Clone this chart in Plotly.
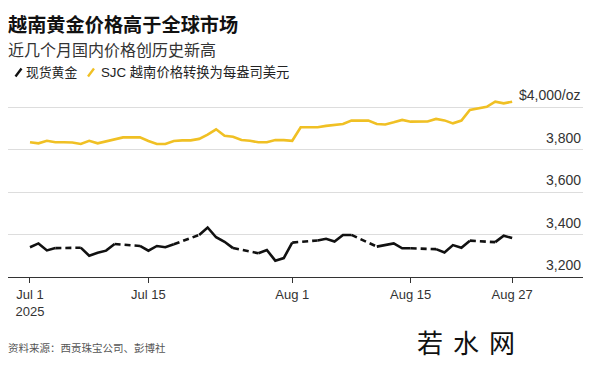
import pandas as pd
import plotly.graph_objects as go

# ---------------- data ----------------
spot_dates = [
    "2025-07-01", "2025-07-02", "2025-07-03", "2025-07-04",
    "2025-07-07", "2025-07-08", "2025-07-09", "2025-07-10", "2025-07-11",
    "2025-07-14", "2025-07-15", "2025-07-16", "2025-07-17", "2025-07-18",
    "2025-07-21", "2025-07-22", "2025-07-23", "2025-07-24", "2025-07-25",
    "2025-07-28", "2025-07-29", "2025-07-30", "2025-07-31", "2025-08-01",
    "2025-08-04", "2025-08-05", "2025-08-06", "2025-08-07", "2025-08-08",
    "2025-08-11", "2025-08-12", "2025-08-13", "2025-08-14", "2025-08-15",
    "2025-08-18", "2025-08-19", "2025-08-20", "2025-08-21", "2025-08-22",
    "2025-08-25", "2025-08-26", "2025-08-27",
]
spot_values = [
    3340, 3358, 3325, 3336,
    3338, 3300, 3314, 3324, 3355,
    3346, 3324, 3346, 3340, 3354,
    3398, 3433, 3387, 3366, 3336,
    3312, 3327, 3277, 3289, 3362,
    3372, 3380, 3367, 3398, 3398,
    3343, 3352, 3358, 3335, 3335,
    3331, 3315, 3350, 3338, 3371,
    3364, 3394, 3383,
]

sjc_start, sjc_end = "2025-07-01", "2025-08-27"
sjc_values = [
    3834, 3829, 3841, 3834, 3834, 3833, 3826, 3841, 3829, 3838,
    3848, 3857, 3857, 3857, 3840, 3826, 3826, 3840, 3843, 3843,
    3850, 3870, 3895, 3865, 3860, 3845, 3841, 3834, 3834, 3845,
    3844, 3841, 3905, 3905, 3905, 3911, 3915, 3920, 3936, 3936,
    3936, 3920, 3918, 3928, 3939, 3931, 3931, 3932, 3944, 3937,
    3923, 3936, 3986, 3995, 4001, 4025, 4017, 4025,
]

x_tick_dates = ["2025-07-01", "2025-07-15", "2025-08-01", "2025-08-15", "2025-08-27"]
x_tick_labels = ["Jul 1<br>2025", "Jul 15", "Aug 1", "Aug 15", "Aug 27"]
y_tick_vals = [3200, 3400, 3600, 3800, 4000]
y_tick_labels = ["3,200", "3,400", "3,600", "3,800", "$4,000/oz"]

title = "越南黄金价格高于全球市场"
subtitle = "近几个月国内价格创历史新高"
legend_spot = "现货黄金"
legend_sjc = "SJC 越南价格转换为每盎司美元"
source = "资料来源：西贡珠宝公司、彭博社"
watermark = ["若", "水", "网"]

# ---------------- styling / layout ----------------
W, H = 600, 365
ML, MR, MT, MB = 8, 17, 95, 88
PW, PH = W - ML - MR, H - MT - MB
BLACK = "#111111"
YELLOW = "#F0C024"
FONT = "Liberation Sans, Arial, Noto Sans CJK SC, sans-serif"


def px_x(px):
    return (px - ML) / PW


def px_y(py):
    return (H - MB - py) / PH


sd = pd.to_datetime(spot_dates)
solid_x, solid_y, dash_x, dash_y = [], [], [], []
for i, (d, v) in enumerate(zip(sd, spot_values)):
    if i > 0 and (d - sd[i - 1]).days > 1:
        solid_x.append(None)
        solid_y.append(None)
        dash_x += [sd[i - 1], d, None]
        dash_y += [spot_values[i - 1], v, None]
    solid_x.append(d)
    solid_y.append(v)

sjc_dates = pd.date_range(sjc_start, sjc_end, freq="D")

fig = go.Figure()
fig.add_trace(go.Scatter(x=sjc_dates, y=sjc_values, mode="lines",
                         line=dict(color=YELLOW, width=2.6), hoverinfo="skip",
                         showlegend=False))
fig.add_trace(go.Scatter(x=dash_x, y=dash_y, mode="lines",
                         line=dict(color=BLACK, width=2.6, dash="6px,4px"),
                         hoverinfo="skip", showlegend=False))
fig.add_trace(go.Scatter(x=solid_x, y=solid_y, mode="lines",
                         line=dict(color=BLACK, width=2.6), connectgaps=False,
                         hoverinfo="skip", showlegend=False))

annotations = []
for v, t in zip(y_tick_vals, y_tick_labels):
    annotations.append(dict(x=1, xref="paper", xanchor="right", y=v, yref="y",
                            yanchor="middle", yshift=12, text=t, showarrow=False,
                            font=dict(size=14, color="#333333", family=FONT)))

annotations += [
    dict(x=px_x(6), y=px_y(25), xref="paper", yref="paper", xanchor="left",
         yanchor="middle", text="<b>" + title + "</b>", showarrow=False,
         font=dict(size=19.2, color="#111111", family=FONT)),
    dict(x=px_x(6), y=px_y(50), xref="paper", yref="paper", xanchor="left",
         yanchor="middle", text=subtitle, showarrow=False,
         font=dict(size=16, color="#333333", family=FONT)),
    dict(x=px_x(24), y=px_y(72.5), xref="paper", yref="paper", xanchor="left",
         yanchor="middle", text=legend_spot, showarrow=False,
         font=dict(size=12.8, color="#222222", family=FONT)),
    dict(x=px_x(99), y=px_y(72.5), xref="paper", yref="paper", xanchor="left",
         yanchor="middle", text=legend_sjc, showarrow=False,
         font=dict(size=13.3, color="#222222", family=FONT)),
    dict(x=px_x(6), y=px_y(348), xref="paper", yref="paper", xanchor="left",
         yanchor="middle", text=source, showarrow=False,
         font=dict(size=10.5, color="#555555", family=FONT)),
]
for cx, ch in zip([430, 466, 502], watermark):
    annotations.append(dict(x=px_x(cx), y=px_y(341), xref="paper", yref="paper",
                            xanchor="center", yanchor="middle", text=ch,
                            showarrow=False,
                            font=dict(size=26, color="#111111",
                                      family="Noto Sans CJK SC")))

shapes = [
    dict(type="line", xref="paper", yref="paper", x0=px_x(15.5), y0=px_y(76.5),
         x1=px_x(21.5), y1=px_y(68.5), line=dict(color=BLACK, width=2.4)),
    dict(type="line", xref="paper", yref="paper", x0=px_x(88), y0=px_y(76.5),
         x1=px_x(94), y1=px_y(68.5), line=dict(color=YELLOW, width=2.4)),
]

fig.update_layout(
    width=W, height=H,
    margin=dict(l=ML, r=MR, t=MT, b=MB, pad=0),
    paper_bgcolor="white", plot_bgcolor="white",
    font=dict(family=FONT, color="#333333"),
    annotations=annotations, shapes=shapes,
    xaxis=dict(
        type="date",
        range=["2025-06-28 09:36", "2025-09-04 09:00"],
        tickvals=x_tick_dates, ticktext=x_tick_labels,
        ticks="outside", ticklen=5, tickcolor="#333333", tickwidth=1,
        showgrid=False, showline=True, linecolor="#333333", linewidth=1,
        zeroline=False, tickfont=dict(size=13, color="#333333", family=FONT),
        fixedrange=True,
    ),
    yaxis=dict(
        range=[3200, 3200 + PH / (170 / 800)],
        tickvals=y_tick_vals, showticklabels=False,
        showgrid=True, gridcolor="#dddddd", gridwidth=1,
        zeroline=False, showline=False, ticks="", fixedrange=True,
    ),
)

fig.write_html("out.html")
